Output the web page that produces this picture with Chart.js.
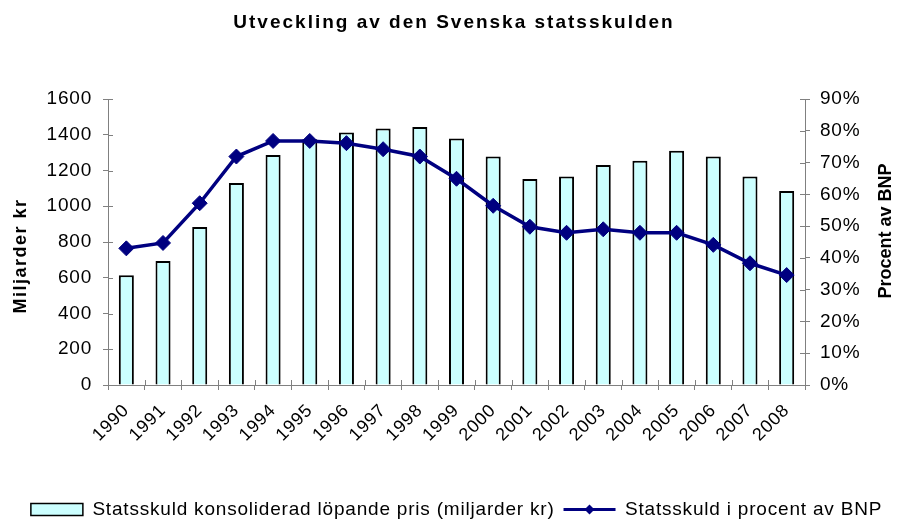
<!DOCTYPE html>
<html>
<head>
<meta charset="utf-8">
<script src="https://cdn.jsdelivr.net/npm/chart.js@4/dist/chart.umd.min.js"></script>
<style>
  html, body { margin: 0; padding: 0; background: #fff; }
</style>
</head>
<body>
<canvas id="myChart" width="905" height="520"></canvas>
<script>
// data
const years = ['1990', '1991', '1992', '1993', '1994', '1995', '1996', '1997', '1998', '1999',
               '2000', '2001', '2002', '2003', '2004', '2005', '2006', '2007', '2008'];
const skuld = [614, 694, 884, 1130, 1287, 1375, 1412, 1435, 1444, 1379,
               1278, 1153, 1166, 1231, 1254, 1310, 1278, 1166, 1086];
const procent = [43.0, 44.7, 57.2, 71.9, 76.8, 76.8, 76.1, 74.2, 71.9, 64.9,
                 56.4, 49.8, 47.9, 49.0, 47.9, 47.9, 44.1, 38.3, 34.6];

const titleText = 'Utveckling av den Svenska statsskulden';
const leftTitle = 'Miljarder kr';
const rightTitle = 'Procent av BNP';
const barLabel = 'Statsskuld konsoliderad löpande pris (miljarder kr)';
const lineLabel = 'Statsskuld i procent av BNP';

const font = "'Liberation Sans', Arial, sans-serif";
const navy = '#000080';
const axisGrey = '#808080';
const spacing = '0.8px';   // the reference text is drawn a bit wide
const padBottom = -9;      // pushes the legend down to the bottom edge
const padLeft = 8;         // legend sits a little right of centre

const ctx = document.getElementById('myChart').getContext('2d');

// titles, inner halves of the tick marks, legend line marker
const extras = {
  id: 'extras',
  beforeUpdate(chart) { chart.ctx.letterSpacing = spacing; },
  beforeDraw(chart) { chart.ctx.letterSpacing = spacing; },
  beforeDatasetsDraw(chart) {
    const c = chart.ctx, a = chart.chartArea;
    const y = chart.scales.y, y1 = chart.scales.y1, x = chart.scales.x;
    c.save();
    c.strokeStyle = axisGrey;
    c.lineWidth = 1;
    c.beginPath();
    y.ticks.forEach((t, i) => {
      const p = Math.round(y.getPixelForTick(i)) + 0.5;
      c.moveTo(a.left, p); c.lineTo(a.left + 5, p);
    });
    y1.ticks.forEach((t, i) => {
      const p = Math.round(y1.getPixelForTick(i)) + 0.5;
      c.moveTo(a.right - 5, p); c.lineTo(a.right, p);
    });
    const step = (a.right - a.left) / years.length;
    for (let i = 1; i < years.length; i++) {
      const p = Math.round(x.getPixelForValue(i) - step / 2) + 0.5;
      c.moveTo(p, a.bottom); c.lineTo(p, a.bottom - 5);
    }
    c.stroke();
    c.restore();
  },
  afterDraw(chart) {
    const c = chart.ctx;
    c.save();
    c.fillStyle = '#000';
    c.textAlign = 'center';
    c.textBaseline = 'middle';

    c.font = 'bold 19px ' + font;
    c.letterSpacing = '2px';
    c.fillText(titleText, 454, 23);

    c.font = 'bold 18px ' + font;
    c.letterSpacing = '1.5px';
    c.save();
    c.translate(21, 256);
    c.rotate(-Math.PI / 2);
    c.fillText(leftTitle, 0, 0);
    c.restore();

    c.letterSpacing = '0px';
    c.save();
    c.translate(886, 231);
    c.rotate(-Math.PI / 2);
    c.fillText(rightTitle, 0, 0);
    c.restore();

    // line + diamond in the legend
    const hb = chart.legend.legendHitBoxes;
    const items = chart.legend.legendItems;
    const k = items.findIndex(it => it.datasetIndex === 1);
    if (k >= 0 && hb[k]) {
      const b = hb[k];
      const cy = b.top + b.height / 2;
      const bw = chart.legend.options.labels.boxWidth;
      c.strokeStyle = navy;
      c.lineWidth = 3;
      c.beginPath();
      c.moveTo(b.left, cy); c.lineTo(b.left + bw, cy);
      c.stroke();
      const cx = b.left + bw / 2, r = 5;
      c.fillStyle = navy;
      c.beginPath();
      c.moveTo(cx, cy - r); c.lineTo(cx + r, cy); c.lineTo(cx, cy + r); c.lineTo(cx - r, cy);
      c.closePath();
      c.fill();
    }
    c.restore();
  }
};

const graphData = {
  type: 'bar',
  data: {
    labels: years,
    datasets: [{
      type: 'bar',
      label: barLabel,
      data: skuld,
      yAxisID: 'y',
      backgroundColor: '#CCFFFF',
      borderColor: '#000000',
      borderWidth: 2,
      barPercentage: 0.41,
      categoryPercentage: 1,
      order: 1
    }, {
      type: 'line',
      label: lineLabel,
      data: procent,
      yAxisID: 'y1',
      borderColor: navy,
      backgroundColor: navy,
      borderWidth: 3.5,
      pointStyle: 'rectRot',
      pointRadius: 7.5,
      pointBorderWidth: 1,
      tension: 0,
      order: 0
    }]
  },
  options: {
    responsive: false,
    animation: false,
    layout: { padding: { top: 99, left: padLeft, right: 0, bottom: padBottom } },
    plugins: {
      title: { display: false },
      tooltip: { enabled: false },
      legend: {
        position: 'bottom',
        labels: {
          color: '#000',
          font: { family: font, size: 19 },
          boxWidth: 52,
          boxHeight: 12,
          padding: 9,
          sort: (a, b) => a.datasetIndex - b.datasetIndex,
          generateLabels(chart) {
            const list = Chart.defaults.plugins.legend.labels.generateLabels(chart);
            list.forEach(it => {
              if (it.datasetIndex === 1) {
                it.fillStyle = 'rgba(0,0,0,0)';
                it.strokeStyle = 'rgba(0,0,0,0)';
                it.lineWidth = 0;
              } else {
                it.lineWidth = 1.5;
              }
            });
            return list;
          }
        }
      }
    },
    scales: {
      x: {
        grid: { drawOnChartArea: false, color: axisGrey, tickLength: 5, offset: true },
        border: { color: axisGrey },
        ticks: {
          color: '#000',
          font: { family: font, size: 18 },
          autoSkip: false,
          maxRotation: 45,
          minRotation: 45,
          padding: 10
        },
        afterFit(scale) {
          const lh = scale.chart.legend ? scale.chart.legend.height : 0;
          scale.height = 520 - padBottom - 385 - lh;
        }
      },
      y: {
        position: 'left',
        min: 0,
        max: 1600,
        grid: { drawOnChartArea: false, color: axisGrey, tickLength: 5 },
        border: { color: axisGrey },
        ticks: {
          stepSize: 200,
          color: '#000',
          font: { family: font, size: 19 },
          padding: 11,
          callback: v => String(v)
        },
        afterFit(scale) { scale.width = 108 - padLeft; }
      },
      y1: {
        position: 'right',
        min: 0,
        max: 90,
        grid: { drawOnChartArea: false, color: axisGrey, tickLength: 5 },
        border: { color: axisGrey },
        ticks: {
          stepSize: 10,
          color: '#000',
          font: { family: font, size: 19 },
          padding: 10,
          callback: v => v + '%'
        },
        afterFit(scale) { scale.width = 100; }
      }
    }
  },
  plugins: [extras]
};

const myChart = new Chart(ctx, graphData);
</script>
</body>
</html>
